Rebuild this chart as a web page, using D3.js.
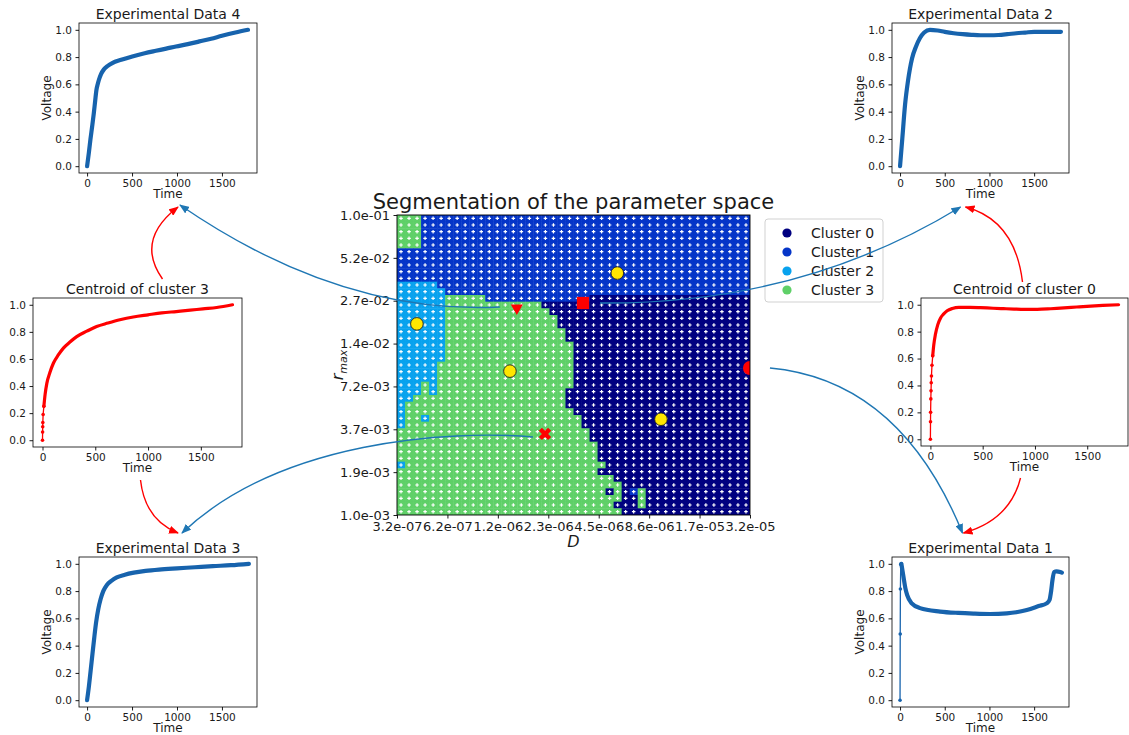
<!DOCTYPE html>
<html>
<head>
<meta charset="utf-8">
<script src="https://cdn.jsdelivr.net/npm/d3@7"></script>
<style>
html, body { margin: 0; padding: 0; background: #ffffff; }
svg { display: block; font-family: "DejaVu Sans", sans-serif; }
</style>
</head>
<body>
<svg id="fig" width="1129" height="735"></svg>
<script>
// ---------------- data ----------------
const clusterNames  = ["Cluster 0", "Cluster 1", "Cluster 2", "Cluster 3"];
const clusterColors = ["#000080", "#0535c8", "#08a2ee", "#5fd068"];

// parameter ranges of the sweep (diffusion D, rate r_max)
const dRange = [Math.pow(10, -6.5), Math.pow(10, -4.5)];
const rRange = [1e-3, 1e-1];
const dTickLabels = ["3.2e-07", "6.2e-07", "1.2e-06", "2.3e-06", "4.5e-06", "8.6e-06", "1.7e-05", "3.2e-05"];
const rTickLabels = ["1.0e-03", "1.9e-03", "3.7e-03", "7.2e-03", "1.4e-02", "2.7e-02", "5.2e-02", "1.0e-01"];

// cluster label of every grid cell, one row per r_max value (top row = largest r_max),
// run-length encoded as [cluster, count] along D
const clusterRuns = [
  [[3,3],[1,41]], [[3,3],[1,41]], [[3,3],[1,41]], [[3,3],[1,41]], [[3,3],[1,41]],
  [[1,44]], [[1,44]], [[1,44]], [[1,44]], [[1,44]],
  [[2,5],[1,39]],
  [[2,6],[1,38]],
  [[2,6],[3,5],[1,13],[0,20]],
  [[2,6],[3,12],[0,26]],
  [[2,6],[3,13],[0,25]],
  [[2,6],[3,14],[0,24]],
  [[2,6],[3,14],[0,24]],
  [[2,6],[3,15],[0,23]],
  [[2,6],[3,15],[0,23]],
  [[2,6],[3,16],[0,22]],
  [[2,6],[3,16],[0,22]],
  [[2,6],[3,16],[0,22]],
  [[2,5],[3,17],[0,22]],
  [[2,5],[3,17],[0,22]],
  [[2,5],[3,17],[0,22]],
  [[2,3],[3,1],[2,1],[3,17],[0,22]],
  [[2,3],[3,1],[2,1],[3,16],[0,23]],
  [[2,2],[3,19],[0,23]],
  [[2,1],[3,20],[0,23]],
  [[2,1],[3,21],[0,22]],
  [[2,1],[3,2],[2,1],[3,19],[0,21]],
  [[2,1],[3,22],[0,21]],
  [[3,24],[0,20]],
  [[3,24],[0,20]],
  [[3,25],[0,19]],
  [[3,25],[0,19]],
  [[3,25],[0,19]],
  [[2,1],[3,25],[0,18]],
  [[3,25],[0,19]],
  [[3,27],[0,17]],
  [[3,28],[0,16]],
  [[3,26],[0,1],[3,1],[0,1],[1,1],[3,1],[0,13]],
  [[3,28],[0,2],[3,1],[0,13]],
  [[3,27],[0,3],[3,1],[0,13]],
  [[3,28],[0,16]]
];

// cluster centroids in parameter space [D, r_max]
const centroidPoints = [[4.1e-7, 1.88e-2], [1.38e-6, 9.1e-3], [5.6e-6, 4.1e-2], [9.9e-6, 4.35e-3]];

// parameter sets of the experimental curves [D, r_max]
const expTriangle = [1.51e-6, 2.4e-2];   // Experimental Data 4
const expSquare   = [3.58e-6, 2.59e-2];  // Experimental Data 2
const expCross    = [2.18e-6, 3.47e-3];  // Experimental Data 3
const expCircle   = [3.16e-5, 9.55e-3];  // Experimental Data 1

const timeTicks = [0, 500, 1000, 1500];
const voltTicks = [0, 0.2, 0.4, 0.6, 0.8, 1.0];

// voltage curves [time, voltage]
const exp4 = [[0,0],[20,0.1],[37,0.195],[56,0.29],[75,0.39],[90,0.48],[104,0.56],[118,0.6],[130,0.63],
  [155,0.675],[187,0.71],[230,0.735],[280,0.756],[380,0.78],[503,0.805],[640,0.828],[765,0.846],
  [880,0.862],[988,0.878],[1120,0.895],[1250,0.915],[1380,0.935],[1500,0.956],[1650,0.98],[1790,1.0]];
const exp2 = [[0,0],[25,0.2],[56,0.45],[90,0.63],[134,0.79],[180,0.88],[223,0.94],[270,0.98],[335,1.0],
  [420,0.995],[500,0.985],[600,0.975],[700,0.968],[800,0.963],[900,0.96],[1000,0.96],[1100,0.962],
  [1200,0.968],[1300,0.975],[1400,0.98],[1500,0.985],[1650,0.985],[1800,0.985]];
const exp3 = [[0,0],[20,0.1],[40,0.22],[60,0.34],[80,0.46],[100,0.57],[125,0.67],[150,0.74],[180,0.8],
  [220,0.845],[270,0.875],[330,0.9],[420,0.92],[520,0.935],[650,0.948],[800,0.958],[1000,0.967],
  [1200,0.975],[1400,0.983],[1600,0.99],[1800,1.0]];
const exp1 = [[0,0],[2,0.485],[4,0.815],[8,0.995],[15,1.0],[37,0.91],[60,0.82],[80,0.77],[131,0.71],
  [224,0.675],[448,0.65],[650,0.64],[821,0.635],[1007,0.632],[1194,0.637],[1300,0.645],[1418,0.662],
  [1550,0.69],[1640,0.71],[1672,0.735],[1690,0.8],[1705,0.88],[1724,0.94],[1750,0.945],[1791,0.94],[1810,0.935]];
const cen3 = [[0,0],[1,0.06],[2,0.1],[3,0.13],[6,0.19],[13,0.25],[25,0.34],[41,0.42],[70,0.5],[104,0.57],
  [150,0.63],[198,0.68],[260,0.725],[324,0.765],[420,0.805],[513,0.84],[620,0.865],[733,0.889],[860,0.91],
  [1000,0.926],[1130,0.94],[1267,0.95],[1400,0.96],[1519,0.97],[1650,0.98],[1800,1.0]];
const cen0 = [[0,0],[1,0.13],[2,0.2],[4,0.3],[6,0.36],[8,0.42],[10,0.47],[15,0.55],[22,0.62],[32,0.7],
  [48,0.78],[70,0.85],[96,0.9],[125,0.93],[160,0.955],[210,0.972],[272,0.98],[380,0.98],[479,0.978],
  [600,0.974],[700,0.971],[800,0.968],[900,0.966],[1022,0.966],[1150,0.97],[1278,0.976],[1400,0.983],
  [1534,0.99],[1650,0.995],[1800,1.0]];

// ---------------- drawing ----------------
const svg = d3.select("#fig");
const TXT = "#1a1a1a";
const BLUE_LINE = "#1763ad";
const ARROW_BLUE = "#1f77b4";

// arrow heads
const defs = svg.append("defs");
function arrowMarker(id, color) {
  defs.append("marker")
    .attr("id", id)
    .attr("viewBox", "0 0 10 8")
    .attr("refX", 9).attr("refY", 4)
    .attr("markerWidth", 10).attr("markerHeight", 8)
    .attr("markerUnits", "userSpaceOnUse")
    .attr("orient", "auto")
    .append("path").attr("d", "M0,0 L10,4 L0,8 z").attr("fill", color);
}
arrowMarker("headBlue", ARROW_BLUE);
arrowMarker("headRed", "#ff0000");

// ---------- central parameter-space map ----------
const hm = { x0: 397, x1: 750, y0: 215, y1: 515 };
const xD = d3.scaleLog().domain(dRange).range([hm.x0, hm.x1]);
const yR = d3.scaleLog().domain(rRange).range([hm.y1, hm.y0]);

defs.append("clipPath").attr("id", "hmClip")
  .append("rect").attr("x", hm.x0).attr("y", hm.y0)
  .attr("width", hm.x1 - hm.x0).attr("height", hm.y1 - hm.y0);

const grid = [];
clusterRuns.forEach(runs => {
  const row = [];
  runs.forEach(([c, n]) => { for (let k = 0; k < n; k++) row.push(c); });
  grid.push(row);
});
const nRows = grid.length, nCols = grid[0].length;
const lD0 = Math.log10(dRange[0]), lD1 = Math.log10(dRange[1]);
const lR0 = Math.log10(rRange[0]), lR1 = Math.log10(rRange[1]);
const dEdge = c => Math.pow(10, lD0 + c * (lD1 - lD0) / nCols);
const rEdge = r => Math.pow(10, lR1 - r * (lR1 - lR0) / nRows);

const cells = [];
grid.forEach((row, r) => row.forEach((c, k) => cells.push({ r, k, c })));

const mapG = svg.append("g").attr("clip-path", "url(#hmClip)");
mapG.selectAll("rect.cell").data(cells).join("rect")
  .attr("class", "cell")
  .attr("x", d => xD(dEdge(d.k)))
  .attr("y", d => yR(rEdge(d.r)))
  .attr("width", d => xD(dEdge(d.k + 1)) - xD(dEdge(d.k)) + 0.4)
  .attr("height", d => yR(rEdge(d.r + 1)) - yR(rEdge(d.r)) + 0.4)
  .attr("fill", d => clusterColors[d.c]);

// sampled parameter points
const plus = d3.symbol().type(d3.symbolCross).size(7);
mapG.selectAll("path.sample").data(cells).join("path")
  .attr("class", "sample")
  .attr("transform", d => {
    const cx = (xD(dEdge(d.k)) + xD(dEdge(d.k + 1))) / 2;
    const cy = (yR(rEdge(d.r)) + yR(rEdge(d.r + 1))) / 2;
    return `translate(${cx},${cy})`;
  })
  .attr("d", plus)
  .attr("fill", "#ffffff");

// centroids
mapG.selectAll("circle.centroid").data(centroidPoints).join("circle")
  .attr("class", "centroid")
  .attr("cx", d => xD(d[0])).attr("cy", d => yR(d[1]))
  .attr("r", 6.3)
  .attr("fill", "#ffe600").attr("stroke", "#222").attr("stroke-width", 0.9);

// experimental parameter sets
mapG.append("path")
  .attr("transform", `translate(${xD(expTriangle[0])},${yR(expTriangle[1])}) rotate(180)`)
  .attr("d", d3.symbol().type(d3.symbolTriangle).size(64)())
  .attr("fill", "#ff0000");
mapG.append("path")
  .attr("transform", `translate(${xD(expSquare[0])},${yR(expSquare[1])})`)
  .attr("d", d3.symbol().type(d3.symbolSquare).size(150)())
  .attr("fill", "#ff0000");
mapG.append("path")
  .attr("transform", `translate(${xD(expCross[0])},${yR(expCross[1])}) rotate(45)`)
  .attr("d", d3.symbol().type(d3.symbolCross).size(95)())
  .attr("fill", "#ff0000");
mapG.append("circle")
  .attr("cx", xD(expCircle[0])).attr("cy", yR(expCircle[1]))
  .attr("r", 7).attr("fill", "#ff0000");

// frame + axes
svg.append("rect")
  .attr("x", hm.x0).attr("y", hm.y0)
  .attr("width", hm.x1 - hm.x0).attr("height", hm.y1 - hm.y0)
  .attr("fill", "none").attr("stroke", "#000").attr("stroke-width", 0.9);

const dTicks = dTickLabels.map((_, i) => Math.pow(10, lD0 + i * (lD1 - lD0) / (dTickLabels.length - 1)));
const rTicks = rTickLabels.map((_, i) => Math.pow(10, lR0 + i * (lR1 - lR0) / (rTickLabels.length - 1)));

function styleAxis(g, size) {
  g.select(".domain").remove();
  g.attr("font-family", "DejaVu Sans, sans-serif").attr("font-size", size).attr("color", TXT);
  g.selectAll(".tick line").attr("stroke", "#000").attr("stroke-width", 0.9);
}

svg.append("g").attr("transform", `translate(0,${hm.y1})`)
  .call(d3.axisBottom(xD).tickValues(dTicks).tickFormat((d, i) => dTickLabels[i]).tickSize(3.5).tickPadding(3.5))
  .call(g => styleAxis(g, 13));
svg.append("g").attr("transform", `translate(${hm.x0},0)`)
  .call(d3.axisLeft(yR).tickValues(rTicks).tickFormat((d, i) => rTickLabels[i]).tickSize(3.5).tickPadding(3.5))
  .call(g => styleAxis(g, 13));

svg.append("text")
  .attr("x", (hm.x0 + hm.x1) / 2).attr("y", hm.y0 - 6)
  .attr("text-anchor", "middle").attr("font-size", 21).attr("fill", TXT)
  .text("Segmentation of the parameter space");
svg.append("text")
  .attr("x", (hm.x0 + hm.x1) / 2).attr("y", hm.y1 + 32)
  .attr("text-anchor", "middle").attr("font-size", 16).attr("font-style", "italic").attr("fill", TXT)
  .text("D");
const rLab = svg.append("text")
  .attr("transform", `translate(${hm.x0 - 54},${(hm.y0 + hm.y1) / 2}) rotate(-90)`)
  .attr("text-anchor", "middle").attr("fill", TXT).attr("font-style", "italic");
rLab.append("tspan").attr("font-size", 16).text("r");
rLab.append("tspan").attr("font-size", 11).attr("dy", 4).text("max");

// legend
const lg = svg.append("g").attr("transform", "translate(765,219)");
lg.append("rect").attr("width", 118).attr("height", 83).attr("rx", 3)
  .attr("fill", "#ffffff").attr("fill-opacity", 0.8).attr("stroke", "#cccccc").attr("stroke-width", 0.9);
clusterNames.forEach((name, i) => {
  const y = 14 + i * 19;
  lg.append("circle").attr("cx", 22).attr("cy", y).attr("r", 4.6).attr("fill", clusterColors[i]);
  lg.append("text").attr("x", 46).attr("y", y + 5).attr("font-size", 14).attr("fill", TXT).text(name);
});

// ---------- voltage panels ----------
const panels = [
  { key: "e4", title: "Experimental Data 4", data: exp4, color: BLUE_LINE, box: [79, 23, 257, 173], ylabel: true, width: 4.2, head: 0 },
  { key: "e2", title: "Experimental Data 2", data: exp2, color: BLUE_LINE, box: [892, 23, 1069, 173], ylabel: true, width: 4.2, head: 0 },
  { key: "c3", title: "Centroid of cluster 3", data: cen3, color: "#ff0000", box: [33, 298, 242, 447], ylabel: false, width: 3.2, head: 5 },
  { key: "c0", title: "Centroid of cluster 0", data: cen0, color: "#ff0000", box: [921, 298, 1128, 446], ylabel: false, width: 3.2, head: 8 },
  { key: "e3", title: "Experimental Data 3", data: exp3, color: BLUE_LINE, box: [79, 557, 257, 707], ylabel: true, width: 4.2, head: 0 },
  { key: "e1", title: "Experimental Data 1", data: exp1, color: BLUE_LINE, box: [892, 557, 1069, 707], ylabel: true, width: 4.2, head: 4 }
];
const geom = {};

panels.forEach(p => {
  const [x0, y0, x1, y1] = p.box;
  geom[p.key] = { x0, y0, x1, y1, cx: (x0 + x1) / 2 };
  const x = d3.scaleLinear().domain([-90, 1890]).range([x0, x1]);
  const y = d3.scaleLinear().domain([-0.05, 1.05]).range([y1, y0]);
  const g = svg.append("g");

  g.append("rect").attr("x", x0).attr("y", y0).attr("width", x1 - x0).attr("height", y1 - y0)
    .attr("fill", "#ffffff").attr("stroke", "#000").attr("stroke-width", 0.8);

  g.append("g").attr("transform", `translate(0,${y1})`)
    .call(d3.axisBottom(x).tickValues(timeTicks).tickFormat(d3.format("d")).tickSize(3.5).tickPadding(3))
    .call(a => styleAxis(a, 10.5));
  g.append("g").attr("transform", `translate(${x0},0)`)
    .call(d3.axisLeft(y).tickValues(voltTicks).tickFormat(d3.format(".1f")).tickSize(3.5).tickPadding(3.5))
    .call(a => styleAxis(a, 10.5));

  g.append("text").attr("x", (x0 + x1) / 2).attr("y", y0 - 4)
    .attr("text-anchor", "middle").attr("font-size", 14).attr("fill", TXT).text(p.title);
  g.append("text").attr("x", (x0 + x1) / 2).attr("y", y1 + 25)
    .attr("text-anchor", "middle").attr("font-size", 12).attr("fill", TXT).text("Time");
  if (p.ylabel) {
    g.append("text").attr("transform", `translate(${x0 - 28},${(y0 + y1) / 2}) rotate(-90)`)
      .attr("text-anchor", "middle").attr("font-size", 12).attr("fill", TXT).text("Voltage");
  }

  const line = d3.line().x(d => x(d[0])).y(d => y(d[1]));
  const headPts = p.data.slice(0, p.head + 1);
  const bodyPts = p.data.slice(p.head);
  if (p.head > 0) {
    g.append("path").attr("d", line(headPts)).attr("fill", "none")
      .attr("stroke", p.color).attr("stroke-width", 1.3);
    g.selectAll("circle.pt").data(headPts).join("circle").attr("class", "pt")
      .attr("cx", d => x(d[0])).attr("cy", d => y(d[1])).attr("r", 1.8).attr("fill", p.color);
  }
  g.append("path").attr("d", line.curve(d3.curveMonotoneX)(bodyPts)).attr("fill", "none")
    .attr("stroke", p.color).attr("stroke-width", p.width)
    .attr("stroke-linejoin", "round").attr("stroke-linecap", "round");
});

// ---------- connecting arrows ----------
function arc(from, ctrl, to, color, head) {
  const path = d3.path();
  path.moveTo(from[0], from[1]);
  path.quadraticCurveTo(ctrl[0], ctrl[1], to[0], to[1]);
  svg.append("path").attr("d", path.toString()).attr("fill", "none")
    .attr("stroke", color).attr("stroke-width", 1.4).attr("marker-end", `url(#${head})`);
}
function arc3(from, c1, c2, to, color, head) {
  const path = d3.path();
  path.moveTo(from[0], from[1]);
  path.bezierCurveTo(c1[0], c1[1], c2[0], c2[1], to[0], to[1]);
  svg.append("path").attr("d", path.toString()).attr("fill", "none")
    .attr("stroke", color).attr("stroke-width", 1.4).attr("marker-end", `url(#${head})`);
}
const tri = [xD(expTriangle[0]), yR(expTriangle[1])];
const sq  = [xD(expSquare[0]),   yR(expSquare[1])];
const crs = [xD(expCross[0]),    yR(expCross[1])];
const cir = [xD(expCircle[0]),   yR(expCircle[1])];
const G = geom;

// parameter set -> experimental curve
arc([tri[0] - 17, tri[1] - 1], [340, 315], [G.e4.cx + 12, G.e4.y1 + 32], ARROW_BLUE, "headBlue");
arc([sq[0] + 17, sq[1]], [800, 305], [G.e2.cx - 20, G.e2.y1 + 34], ARROW_BLUE, "headBlue");
arc3([crs[0] - 12, crs[1] + 3], [450, 430], [280, 440], [G.e3.cx + 14, G.e3.y0 - 24], ARROW_BLUE, "headBlue");
arc([cir[0] + 20, cir[1]], [900, 380], [G.e1.cx - 18, G.e1.y0 - 24], ARROW_BLUE, "headBlue");

// centroid -> experimental curve
arc([G.c3.cx + 25, G.c3.y0 - 19], [135, 240], [G.e4.cx + 10, G.e4.y1 + 34], "#ff0000", "headRed");
arc([G.c3.cx + 3, G.c3.y1 + 33], [145, 520], [G.e3.cx + 10, G.e3.y0 - 24], "#ff0000", "headRed");
arc([G.c0.cx - 2, G.c0.y0 - 16], [1015, 220], [G.e2.cx - 15, G.e2.y1 + 34], "#ff0000", "headRed");
arc([G.c0.cx - 4, G.c0.y1 + 32], [1010, 520], [G.e1.cx - 17, G.e1.y0 - 24], "#ff0000", "headRed");
</script>
</body>
</html>
